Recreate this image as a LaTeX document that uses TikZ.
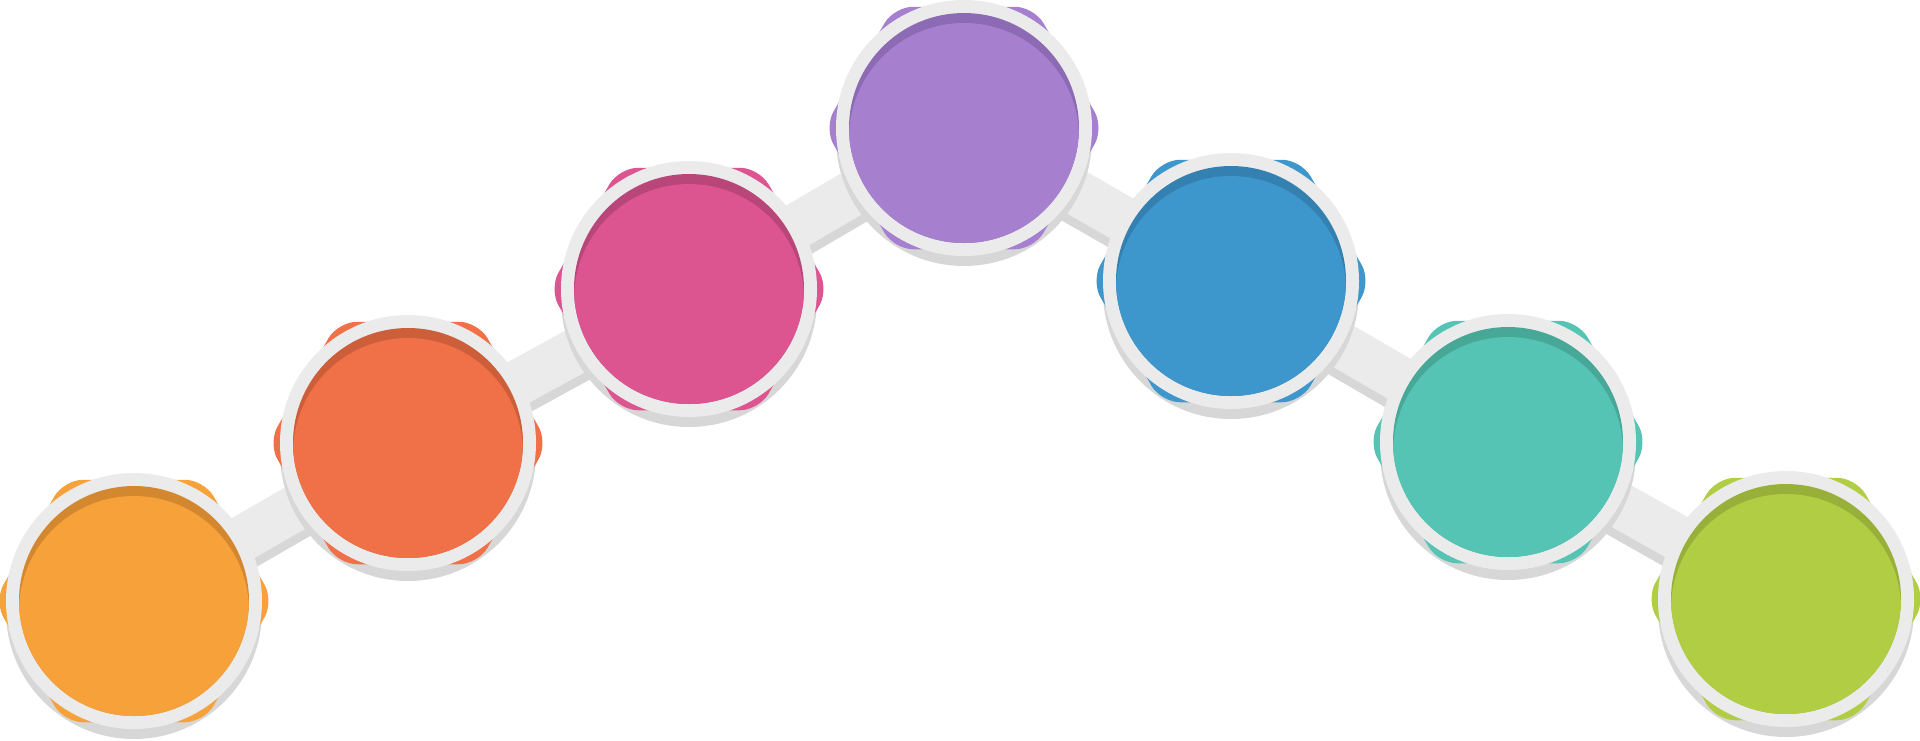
\documentclass[tikz,border=0pt]{standalone}
\usetikzlibrary{calc}
\definecolor{ringc}{HTML}{EBEBEB}
\definecolor{shadc}{HTML}{D7D7D7}
\definecolor{cA}{HTML}{F7A13B}\definecolor{dA}{HTML}{D3882F}
\definecolor{cB}{HTML}{F07048}\definecolor{dB}{HTML}{CC5E3A}
\definecolor{cC}{HTML}{DC5591}\definecolor{dC}{HTML}{B84678}
\definecolor{cD}{HTML}{A680CF}\definecolor{dD}{HTML}{8D6BB4}
\definecolor{cE}{HTML}{3E97CC}\definecolor{dE}{HTML}{3480B0}
\definecolor{cF}{HTML}{56C4B4}\definecolor{dF}{HTML}{47A898}
\definecolor{cG}{HTML}{B1CD44}\definecolor{dG}{HTML}{98B03A}
\tikzset{
  bandline/.style={draw=ringc, line width=46pt},
  bandshadow/.style={draw=shadc, line width=46pt},
  ringnode/.style={circle, fill=ringc, minimum size=256pt, inner sep=0pt},
}
\begin{document}
\begin{tikzpicture}[x=1pt,y=-1pt]
\useasboundingbox (0,0) rectangle (1920,740);
\coordinate (c1) at (134,601);
\coordinate (c2) at (408,443);
\coordinate (c3) at (689,289);
\coordinate (c4) at (964,128);
\coordinate (c5) at (1231,281);
\coordinate (c6) at (1508,442);
\coordinate (c7) at (1786,599);
% connector bands
\foreach \a/\b in {1/2,2/3,3/4,4/5,5/6,6/7}{
  \draw[bandshadow] ([yshift=-10pt]c\a) -- ([yshift=-10pt]c\b);
}
\foreach \a/\b in {1/2,2/3,3/4,4/5,5/6,6/7}{
  \draw[bandline] (c\a) -- (c\b);
}
% bubbles
\foreach \i/\col/\dk in {1/cA/dA,2/cB/dB,3/cC/dC,4/cD/dD,5/cE/dE,6/cF/dF,7/cG/dG}{
  \fill[shadc] ([yshift=-10pt]c\i) circle (128);
  \fill[\col, rounded corners=19pt] ($(c\i)+(30:121.2)$) -- ($(c\i)+(60:140)$)
    -- ($(c\i)+(120:140)$) -- ($(c\i)+(180:140)$) -- ($(c\i)+(240:140)$)
    -- ($(c\i)+(300:140)$) -- ($(c\i)+(0:140)$) -- cycle;
  \node[ringnode] (n\i) at (c\i) {};
  \fill[\dk] (c\i) circle (115);
  \begin{scope}
    \clip (c\i) circle (115);
    \fill[\col] ([yshift=-10pt]c\i) circle (115);
  \end{scope}
}
\end{tikzpicture}
\end{document}
